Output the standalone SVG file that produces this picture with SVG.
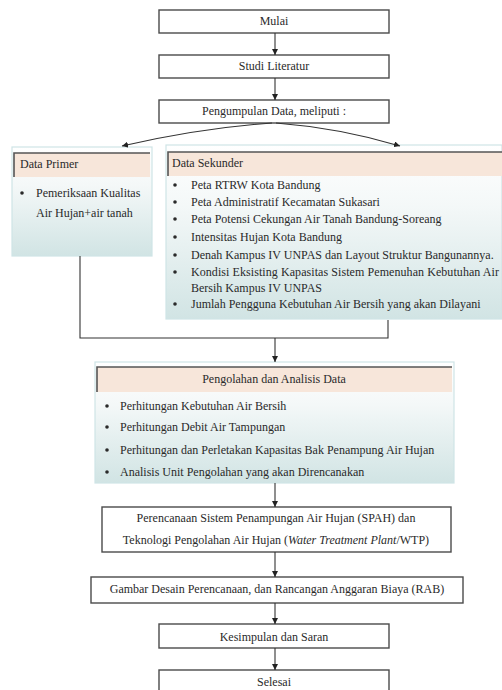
<svg xmlns="http://www.w3.org/2000/svg" width="502" height="690" viewBox="0 0 502 690">
<defs>
<linearGradient id="g" x1="0" y1="0" x2="0" y2="1">
<stop offset="0" stop-color="#ffffff"/>
<stop offset="0.35" stop-color="#f4f8f8"/>
<stop offset="1" stop-color="#d1e4e4"/>
</linearGradient>
<marker id="ah" viewBox="0 0 10 10" refX="10" refY="5" markerWidth="6" markerHeight="6" markerUnits="userSpaceOnUse" orient="auto">
<path d="M0,0 L10,5 L0,10 z" fill="#222"/>
</marker>
</defs>
<style>
text{font-family:"Liberation Serif","Times New Roman",serif;font-size:12px;fill:#2a2a2a}
.c{text-anchor:middle}
.box{fill:#ffffff;stroke:#4a4a4a;stroke-width:1.4}
.panel{fill:url(#g);stroke:#cfe4e6;stroke-width:1.2}
.hdr{fill:#f7e6da}
.hl{fill:none;stroke:#555;stroke-width:1.6}
.b{fill:#2a2a2a}
.con{fill:none;stroke:#333;stroke-width:1.1}
</style>
<rect width="502" height="690" fill="#ffffff"/>

<g id="mulai">
<rect class="box" x="159" y="10" width="230" height="23"/>
<text class="c" x="274" y="25">Mulai</text>
</g>
<g id="studi">
<rect class="box" x="159" y="55" width="230" height="23"/>
<text class="c" x="274" y="70">Studi Literatur</text>
</g>
<g id="pengumpulan">
<rect class="box" x="159" y="100" width="230" height="23"/>
<text class="c" x="274" y="115">Pengumpulan Data, meliputi :</text>
</g>

<g id="primer">
<rect class="panel" x="12" y="147" width="140" height="109"/>
<rect class="hdr" x="14" y="153" width="136" height="24"/>
<path class="hl" d="M14,177 V153 H150"/>
<text x="20" y="168">Data Primer</text>
<circle class="b" cx="22" cy="193" r="1.8"/>
<text x="36" y="197">Pemeriksaan Kualitas</text>
<text x="36" y="217">Air Hujan+air tanah</text>
</g>

<g id="sekunder">
<rect class="panel" x="166" y="145" width="336" height="174"/>
<rect class="hdr" x="168" y="152" width="334" height="24"/>
<path class="hl" d="M168,176 V152 H502"/>
<text x="172" y="167">Data Sekunder</text>
<g>
<circle class="b" cx="175" cy="185" r="1.8"/>
<text x="191" y="189">Peta RTRW Kota Bandung</text>
<circle class="b" cx="175" cy="202" r="1.8"/>
<text x="191" y="206">Peta Administratif Kecamatan Sukasari</text>
<circle class="b" cx="175" cy="219" r="1.8"/>
<text x="191" y="223">Peta Potensi Cekungan Air Tanah Bandung-Soreang</text>
<circle class="b" cx="175" cy="237" r="1.8"/>
<text x="191" y="241">Intensitas Hujan Kota Bandung</text>
<circle class="b" cx="175" cy="255" r="1.8"/>
<text x="191" y="259">Denah Kampus IV UNPAS dan Layout Struktur Bangunannya.</text>
<circle class="b" cx="175" cy="272" r="1.8"/>
<text x="191" y="276" textLength="308" lengthAdjust="spacing">Kondisi Eksisting Kapasitas Sistem Pemenuhan Kebutuhan Air</text>
<text x="191" y="292">Bersih Kampus IV UNPAS</text>
<circle class="b" cx="175" cy="304" r="1.8"/>
<text x="191" y="308">Jumlah Pengguna Kebutuhan Air Bersih yang akan Dilayani</text>
</g>
</g>

<g id="pengolahan">
<rect class="panel" x="95" y="362" width="359" height="121"/>
<rect class="hdr" x="97" y="367" width="355" height="25"/>
<path class="hl" d="M97,392 V367 H452"/>
<text class="c" x="274" y="383">Pengolahan dan Analisis Data</text>
<circle class="b" cx="107" cy="406" r="1.8"/>
<text x="120" y="410">Perhitungan Kebutuhan Air Bersih</text>
<circle class="b" cx="107" cy="427" r="1.8"/>
<text x="120" y="431">Perhitungan Debit Air Tampungan</text>
<circle class="b" cx="107" cy="450" r="1.8"/>
<text x="120" y="454">Perhitungan dan Perletakan Kapasitas Bak Penampung Air Hujan</text>
<circle class="b" cx="107" cy="472" r="1.8"/>
<text x="120" y="476">Analisis Unit Pengolahan yang akan Direncanakan</text>
</g>

<g id="perencanaan">
<rect class="box" x="102" y="507" width="349" height="45"/>
<text class="c" x="276" y="522">Perencanaan Sistem Penampungan Air Hujan (SPAH) dan</text>
<text class="c" x="276" y="544">Teknologi Pengolahan Air Hujan (<tspan font-style="italic">Water Treatment Plant</tspan>/WTP)</text>
</g>

<g id="gambar">
<rect class="box" x="91" y="577" width="372" height="26"/>
<text class="c" x="277" y="593">Gambar Desain Perencanaan, dan Rancangan Anggaran Biaya (RAB)</text>
</g>

<g id="kesimpulan">
<rect class="box" x="159" y="624" width="230" height="24"/>
<text class="c" x="274" y="641">Kesimpulan dan Saran</text>
</g>

<g id="selesai">
<rect class="box" x="159" y="670" width="230" height="30"/>
<text class="c" x="274" y="686">Selesai</text>
</g>

<g id="connectors">
<line class="con" x1="275" y1="33" x2="275" y2="55" marker-end="url(#ah)"/>
<line class="con" x1="275" y1="78" x2="275" y2="100" marker-end="url(#ah)"/>
<path class="con" d="M272,123 Q200,128 122,146" marker-end="url(#ah)"/>
<path class="con" d="M276,123 Q340,128 400,146" marker-end="url(#ah)"/>
<path class="con" d="M80,256 V338 H388 V320"/>
<line class="con" x1="275" y1="338" x2="275" y2="362" marker-end="url(#ah)"/>
<line class="con" x1="275" y1="483" x2="275" y2="507" marker-end="url(#ah)"/>
<line class="con" x1="275" y1="552" x2="275" y2="577" marker-end="url(#ah)"/>
<line class="con" x1="275" y1="603" x2="275" y2="624" marker-end="url(#ah)"/>
<line class="con" x1="275" y1="648" x2="275" y2="670" marker-end="url(#ah)"/>
</g>
</svg>
